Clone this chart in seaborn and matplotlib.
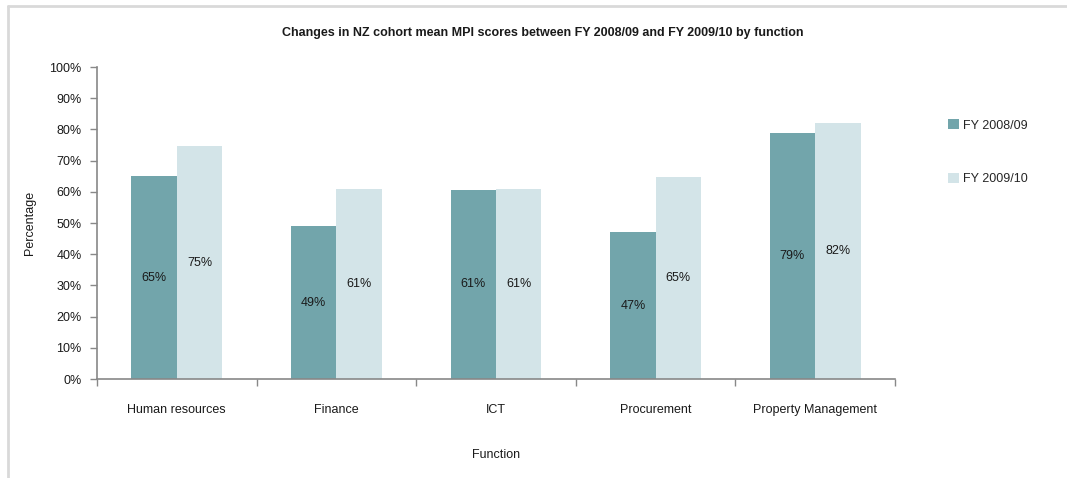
import matplotlib
matplotlib.use("Agg")
import matplotlib.pyplot as plt
import matplotlib.patches as mpatches
import matplotlib.lines as mlines
import pandas as pd
import seaborn as sns
from matplotlib.ticker import PercentFormatter, FixedLocator

functions = ["Human resources", "Finance", "ICT", "Procurement", "Property Management"]
fy_2008_09 = [65.0, 49.0, 60.6, 47.0, 79.0]
fy_2009_10 = [74.6, 60.9, 60.9, 64.6, 82.0]
series_names = ["FY 2008/09", "FY 2009/10"]
colors = ["#72A5AB", "#D3E4E8"]

df = pd.DataFrame({
    "Function": functions * 2,
    "Value": fy_2008_09 + fy_2009_10,
    "Series": [series_names[0]] * len(functions) + [series_names[1]] * len(functions),
})

sns.set_theme(style="white")
plt.rcParams["font.family"] = ["Liberation Sans", "DejaVu Sans"]

FS = 9
TXT = "#1a1a1a"

fig = plt.figure(figsize=(10.67, 4.78), dpi=100)
ax = fig.add_axes([97 / 1067, 1 - 379 / 478, (895 - 97) / 1067, (379 - 67) / 478])

sns.barplot(data=df, x="Function", y="Value", hue="Series", palette=colors,
            width=0.57, ax=ax, legend=False, saturation=1, edgecolor="none")

for container in ax.containers:
    for bar in container:
        h = bar.get_height()
        ax.text(bar.get_x() + bar.get_width() / 2, h / 2, f"{h:.0f}%",
                ha="center", va="center", fontsize=FS, color=TXT)

ax.set_ylim(0, 100)
ax.set_xlim(-0.5, len(functions) - 0.5)
ax.yaxis.set_major_locator(FixedLocator(range(0, 101, 10)))
ax.yaxis.set_major_formatter(PercentFormatter(decimals=0))

# Category separators as tick marks, labels centred under groups
ax.set_xticks([i - 0.5 for i in range(len(functions) + 1)], minor=False)
ax.set_xticklabels([])
ax.set_xticks(range(len(functions)), minor=True)
ax.set_xticklabels(functions, minor=True)
ax.tick_params(axis="x", which="major", direction="out", length=5, width=1, color="#888888", bottom=True)
ax.tick_params(axis="x", which="minor", length=0, pad=18, labelsize=FS, labelcolor=TXT)
ax.tick_params(axis="y", direction="out", length=5, width=1, color="#888888", left=True,
               labelsize=FS, labelcolor=TXT, pad=6)

for side in ["top", "right"]:
    ax.spines[side].set_visible(False)
for side in ["left", "bottom"]:
    ax.spines[side].set_color("#888888")
    ax.spines[side].set_linewidth(1.2)

ax.set_xlabel("Function", fontsize=FS, color=TXT, labelpad=24)
ax.set_ylabel("Percentage", fontsize=FS, color=TXT, labelpad=10)

fig.text(543 / 1067, 1 - 33 / 478,
         "Changes in NZ cohort mean MPI scores between FY 2008/09 and FY 2009/10 by function",
         ha="center", va="center", fontsize=FS, fontweight="bold", color=TXT)

handles = [mpatches.Patch(facecolor=c, edgecolor="none", label=n) for c, n in zip(colors, series_names)]
fig.legend(handles=handles, loc="upper left", bbox_to_anchor=(937 / 1067, 1 - 108 / 478),
           frameon=False, fontsize=FS, labelspacing=3.3, handlelength=0.85, handleheight=0.85,
           handletextpad=0.35)

# Light frame lines along the top and left of the chart area
frame_kw = dict(transform=fig.transFigure, color="#D9D9D9", linewidth=2)
fig.lines.append(mlines.Line2D([8 / 1067, 1], [1 - 6 / 478, 1 - 6 / 478], **frame_kw))
fig.lines.append(mlines.Line2D([8 / 1067, 8 / 1067], [0, 1 - 6 / 478], **frame_kw))

fig.savefig("out.png", dpi=100)
